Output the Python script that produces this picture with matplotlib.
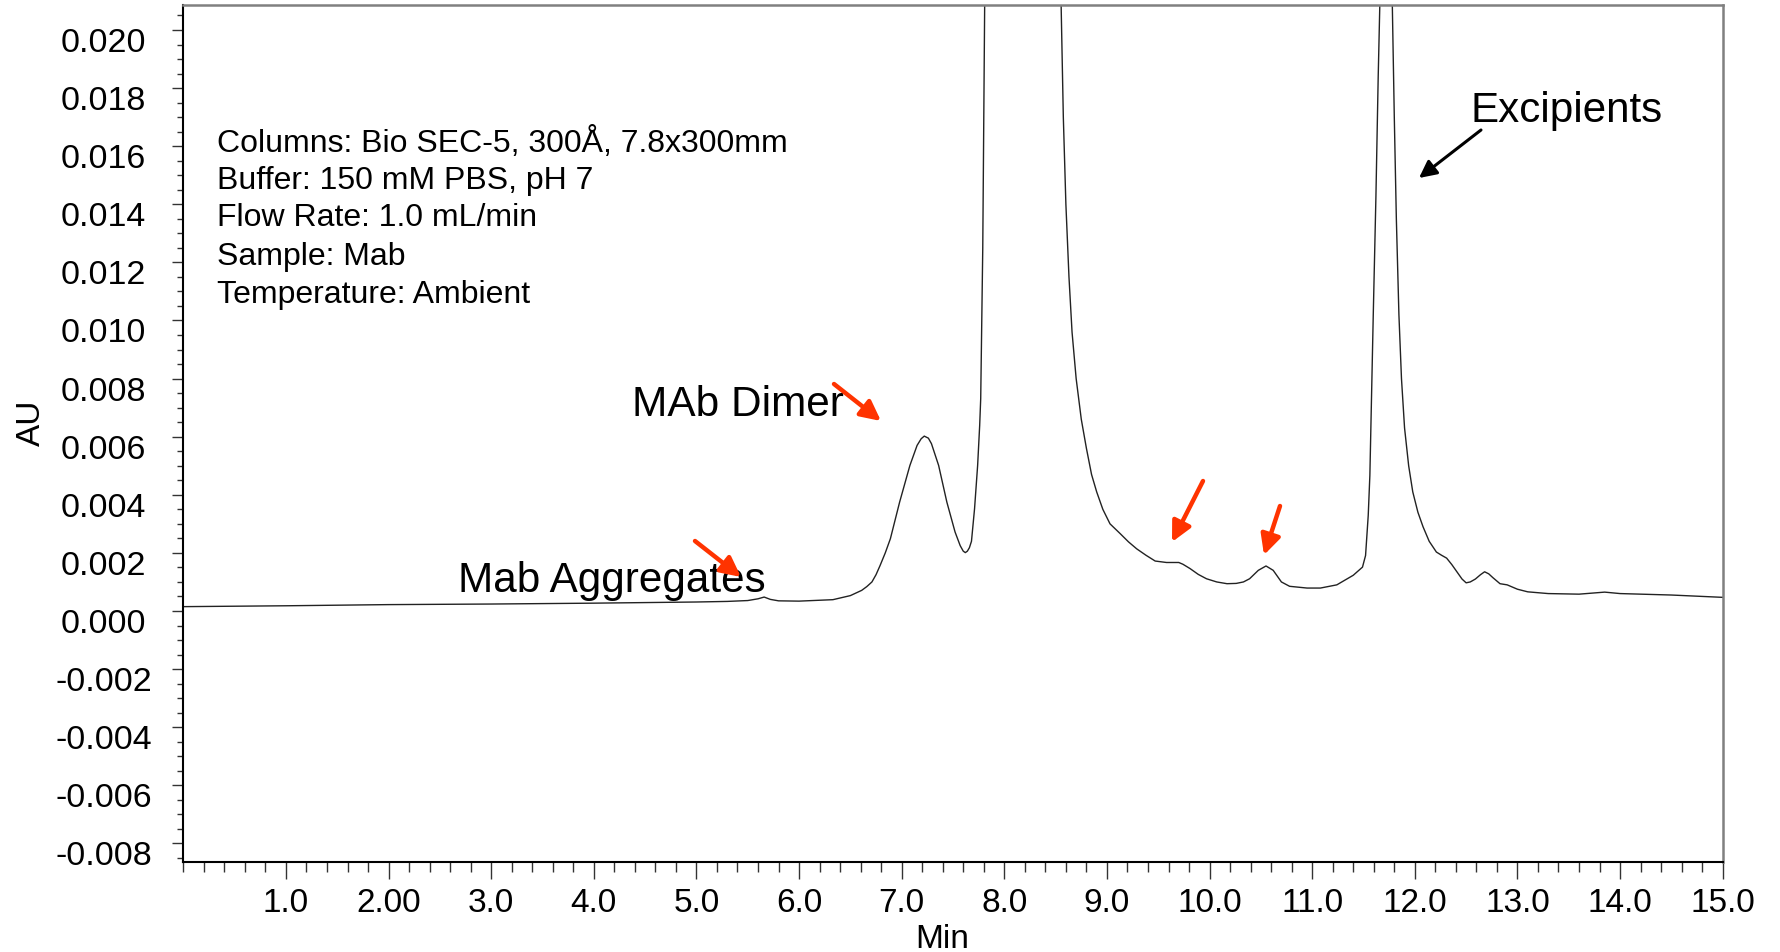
import matplotlib
matplotlib.use("Agg")
import matplotlib.pyplot as plt
import matplotlib.transforms as mtransforms
from matplotlib.ticker import FixedLocator, MultipleLocator

plt.rcParams['font.family'] = ['Liberation Sans', 'DejaVu Sans']

# ---- data (time in min, absorbance in AU) ----
time_min = [
    0.00, 0.50, 1.00, 1.50, 2.00, 2.50, 3.00, 3.50, 4.00, 4.50, 5.00, 5.30,
    5.50, 5.60, 5.66, 5.72, 5.80, 6.00, 6.33, 6.50, 6.61, 6.66, 6.71, 6.75,
    6.79, 6.84, 6.89, 6.98, 7.08, 7.15, 7.19, 7.22, 7.26, 7.29, 7.36, 7.44,
    7.52, 7.57, 7.60, 7.62, 7.64, 7.66, 7.68, 7.71, 7.74, 7.76, 7.77, 7.79,
    7.81, 7.85, 8.20, 8.50, 8.55, 8.575, 8.60, 8.63, 8.66, 8.70, 8.75, 8.80,
    8.85, 8.90, 8.96, 9.03, 9.13, 9.21, 9.29, 9.38, 9.47, 9.58, 9.70, 9.74,
    9.81, 9.89, 9.97, 10.07, 10.17, 10.26, 10.33, 10.39, 10.475, 10.55,
    10.62, 10.70, 10.78, 10.95, 11.08, 11.24, 11.40, 11.49, 11.52, 11.546,
    11.562, 11.595, 11.621, 11.643, 11.66, 11.72, 11.78, 11.80, 11.82,
    11.845, 11.87, 11.90, 11.94, 11.98, 12.03, 12.08, 12.14, 12.21, 12.26,
    12.31, 12.36, 12.41, 12.46, 12.50, 12.54, 12.59, 12.64, 12.68, 12.72,
    12.76, 12.83, 12.90, 13.00, 13.10, 13.30, 13.60, 13.85, 14.00, 14.50,
    15.00,
]
absorbance_au = [
    0.000150, 0.000165, 0.000180, 0.000200, 0.000220, 0.000230, 0.000240,
    0.000255, 0.000270, 0.000290, 0.000310, 0.000330, 0.000360, 0.000420,
    0.000480, 0.000400, 0.000350, 0.000340, 0.000390, 0.000530, 0.000710,
    0.000840, 0.001000, 0.001250, 0.001570, 0.002000, 0.002490, 0.003750,
    0.005010, 0.005700, 0.005930, 0.006020, 0.005950, 0.005760, 0.005010,
    0.003750, 0.002720, 0.002250, 0.002060, 0.002010, 0.002060, 0.002180,
    0.002400, 0.003520, 0.005010, 0.006390, 0.007310, 0.012500, 0.021500,
    0.035000, 0.060000, 0.030000, 0.021500, 0.017000, 0.014000, 0.011500,
    0.009600, 0.008000, 0.006600, 0.005600, 0.004700, 0.004100, 0.003500,
    0.003000, 0.002660, 0.002380, 0.002140, 0.001920, 0.001720, 0.001670,
    0.001670, 0.001610, 0.001460, 0.001260, 0.001110, 0.001000, 0.000940,
    0.000950, 0.001000, 0.001110, 0.001400, 0.001550, 0.001400, 0.001000,
    0.000850, 0.000790, 0.000790, 0.000900, 0.001230, 0.001510, 0.001910,
    0.003290, 0.004670, 0.010190, 0.014270, 0.018360, 0.021000, 0.040000,
    0.021000, 0.017000, 0.013500, 0.010200, 0.008000, 0.006300, 0.005000,
    0.004100, 0.003400, 0.002900, 0.002400, 0.002030, 0.001920, 0.001820,
    0.001600, 0.001350, 0.001100, 0.000970, 0.001000, 0.001100, 0.001250,
    0.001350, 0.001280, 0.001150, 0.000940, 0.000900, 0.000750, 0.000660,
    0.000600, 0.000580, 0.000650, 0.000600, 0.000550, 0.000470,
]

x_major = [1, 2, 3, 4, 5, 6, 7, 8, 9, 10, 11, 12, 13, 14, 15]
x_labels = ["1.0", "2.00", "3.0", "4.0", "5.0", "6.0", "7.0", "8.0", "9.0",
            "10.0", "11.0", "12.0", "13.0", "14.0", "15.0"]
y_major = [-0.008, -0.006, -0.004, -0.002, 0.000, 0.002, 0.004, 0.006,
           0.008, 0.010, 0.012, 0.014, 0.016, 0.018, 0.020]
y_labels = ["-0.008", "-0.006", "-0.004", "-0.002", "0.000", "0.002",
            "0.004", "0.006", "0.008", "0.010", "0.012", "0.014", "0.016",
            "0.018", "0.020"]

info_lines = [
    "Columns: Bio SEC-5, 300Å, 7.8x300mm",
    "Buffer: 150 mM PBS, pH 7",
    "Flow Rate: 1.0 mL/min",
    "Sample: Mab",
    "Temperature: Ambient",
]

# ---- figure ----
W, H = 1781, 953
fig = plt.figure(figsize=(W / 100, H / 100), dpi=100)
L, R, B, T = 183.3, 1722.7, 863.3, 5.7
ax = fig.add_axes([L / W, 1 - B / H, (R - L) / W, (B - T) / H])

ax.plot(time_min, absorbance_au, color='#222222', lw=1.0, zorder=2)

ax.set_xlim(0, 15)
ax.set_ylim(-0.00865, 0.02087)

ax.xaxis.set_major_locator(FixedLocator(x_major))
ax.set_xticklabels(x_labels)
ax.xaxis.set_minor_locator(MultipleLocator(0.2))
ax.yaxis.set_major_locator(FixedLocator(y_major))
ax.set_yticklabels(y_labels)
ax.yaxis.set_minor_locator(MultipleLocator(0.0005))

ax.tick_params(axis='x', which='major', direction='out', length=12, width=1.0,
               color='#333333', labelsize=24, pad=6)
ax.tick_params(axis='x', which='minor', direction='out', length=7, width=1.0,
               color='#333333')
ax.tick_params(axis='y', which='major', direction='out', length=8, width=1.0,
               color='#333333', labelsize=24.5, pad=49.3)
ax.tick_params(axis='y', which='minor', direction='out', length=4.5, width=1.0,
               color='#333333')

offset = mtransforms.ScaledTranslation(0, -9 / 100, fig.dpi_scale_trans)
for tk in ax.yaxis.get_major_ticks():
    tk.label1.set_transform(tk.label1.get_transform() + offset)
    tk.label1.set_horizontalalignment('center')

for side in ['left', 'bottom']:
    ax.spines[side].set_color('black')
    ax.spines[side].set_linewidth(1.5)
for side in ['top', 'right']:
    ax.spines[side].set_color('#808080')
    ax.spines[side].set_linewidth(1.8)

ax.set_xlabel('Min', fontsize=24, va='center')
ax.xaxis.set_label_coords((942 - L) / (R - L), (B - 939) / (B - T))
ax.set_ylabel('AU', fontsize=24, va='center')
ax.yaxis.set_label_coords((31.8 - L) / (R - L), (B - 422.6) / (B - T))

# ---- text annotations ----
def px2data(px, py):
    return ((px - L) / (R - L) * 15.0,
            0.02087 - (py - T) / (B - T) * (0.02087 + 0.00865))

info_y_px = [143.2, 180.7, 218.1, 256.8, 295.3]
for line, py in zip(info_lines, info_y_px):
    ax.text(*px2data(217, py), line, fontsize=23, ha='left', va='center',
            color='black')

ax.text(*px2data(632, 405.5), 'MAb Dimer', fontsize=30.5, ha='left', va='center')
ax.text(*px2data(458, 581.5), 'Mab Aggregates', fontsize=30.4, ha='left', va='center')
ax.text(*px2data(1470, 111.5), 'Excipients', fontsize=30.3, ha='left', va='center')

red = '#ff3300'
red_arrows = [
    ((695, 542), (741, 578)),
    ((834, 385), (881, 422)),
    ((1203, 482), (1172, 543)),
    ((1280, 507), (1264, 556)),
]
for (tx, ty), (hx, hy) in red_arrows:
    ax.annotate('', xy=px2data(hx, hy), xytext=px2data(tx, ty),
                arrowprops=dict(arrowstyle='-|>', color=red, lw=3.2,
                                mutation_scale=30, shrinkA=0, shrinkB=0),
                zorder=5)

ax.annotate('', xy=px2data(1419, 179), xytext=px2data(1481, 131),
            arrowprops=dict(arrowstyle='-|>', color='black', lw=2.2,
                            mutation_scale=26, shrinkA=0, shrinkB=0),
            zorder=5)

fig.savefig('out.png', dpi=100)
